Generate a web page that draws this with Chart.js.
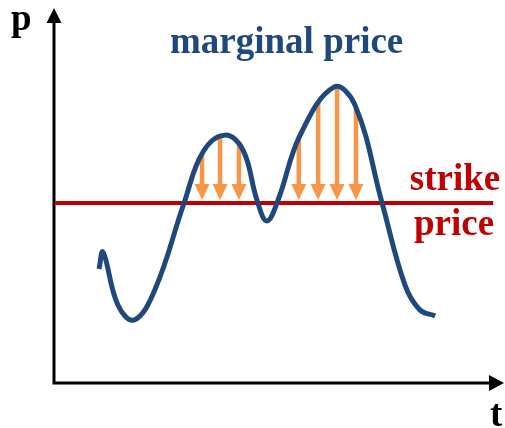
<!DOCTYPE html>
<html>
<head>
<meta charset="utf-8">
<script src="https://cdn.jsdelivr.net/npm/chart.js@4/dist/chart.umd.min.js"></script>
<style>
  html, body { margin: 0; padding: 0; background: #fff; }
  #wrap { width: 505px; height: 428px; }
</style>
</head>
<body>
<div id="wrap"><canvas id="priceChart" width="505" height="428"></canvas></div>
<script>
'use strict'
/*-----data-----*/
var curveT = [1.00, 1.09, 1.42, 1.78, 2.24, 2.89, 3.31, 3.80, 4.20, 4.51, 4.73, 4.98, 5.47, 6.22, 6.69, 7.29, 7.80, 8.13, 8.47];
var curveP = [3.04, 3.49, 2.08, 1.68, 2.48, 4.80, 6.16, 6.61, 6.21, 4.88, 4.32, 4.88, 6.61, 7.89, 7.41, 4.80, 2.61, 1.95, 1.79];
var strikePrice = 4.80;
var strikeT = [0.02, 9.76];
var arrowT = [3.29, 3.69, 4.11, 5.44, 5.87, 6.29, 6.71];
var arrowP = [6.1, 6.55, 6.35, 6.6, 7.5, 7.85, 7.3];

var BLUE = '#1f497d';
var RED = '#c00000';
var ORANGE = '#f79646';
var FONT = "'Liberation Serif', 'DejaVu Serif', serif";

var curveData = curveT.map(function(t, i) { return { x: t, y: curveP[i] }; });
var strikeData = strikeT.map(function(t) { return { x: t, y: strikePrice }; });

/*-----axes and arrows-----*/
var sketchPlugin = {
	id: 'sketch',
	beforeDatasetsDraw: function(chart) {
		var c = chart.ctx, xs = chart.scales.x, ys = chart.scales.y;
		var x0 = xs.getPixelForValue(0), y0 = ys.getPixelForValue(0);
		var xEnd = xs.getPixelForValue(10), yEnd = ys.getPixelForValue(10);
		c.save();
		c.strokeStyle = '#000';
		c.fillStyle = '#000';
		c.lineWidth = 3;
		c.beginPath();
		c.moveTo(x0, y0 + 1.5);
		c.lineTo(x0, yEnd + 14);
		c.moveTo(x0 - 1.5, y0);
		c.lineTo(xEnd - 14, y0);
		c.stroke();
		c.beginPath();
		c.moveTo(x0, yEnd);
		c.lineTo(x0 - 7.5, yEnd + 15);
		c.lineTo(x0 + 7.5, yEnd + 15);
		c.closePath();
		c.fill();
		c.beginPath();
		c.moveTo(xEnd, y0);
		c.lineTo(xEnd - 15, y0 - 8);
		c.lineTo(xEnd - 15, y0 + 8);
		c.closePath();
		c.fill();

		// orange arrows down to the strike line
		var tipY = ys.getPixelForValue(strikePrice) - 3;
		c.fillStyle = ORANGE;
		c.strokeStyle = ORANGE;
		c.lineWidth = 4.5;
		arrowT.forEach(function(t, i) {
			var ax = xs.getPixelForValue(t);
			var top = ys.getPixelForValue(arrowP[i]);
			c.beginPath();
			c.moveTo(ax, top);
			c.lineTo(ax, tipY - 14);
			c.stroke();
			c.beginPath();
			c.moveTo(ax, tipY);
			c.lineTo(ax - 7.5, tipY - 16);
			c.lineTo(ax + 7.5, tipY - 16);
			c.closePath();
			c.fill();
		});
		c.restore();
	},
	afterDraw: function(chart) {
		var c = chart.ctx;
		c.save();
		c.textBaseline = 'alphabetic';
		c.font = 'bold 37px ' + FONT;
		c.fillStyle = '#000';
		c.textAlign = 'left';
		c.fillText('p', 11, 30);
		c.fillText('t', 490, 426);
		c.fillStyle = BLUE;
		c.fillText('marginal price', 170, 53);
		c.fillStyle = RED;
		c.textAlign = 'center';
		c.fillText('strike', 455, 190);
		c.fillText('price', 454, 235);
		c.restore();
	}
};

var ctx = document.getElementById('priceChart');
var myChart = new Chart(ctx, {
	type: 'line',
	data: {
		datasets: [{
			label: 'marginal price',
			data: curveData,
			borderColor: BLUE,
			borderWidth: 5,
			tension: 0.4,
			pointRadius: 0,
			fill: false,
			order: 0
		}, {
			label: 'strike price',
			data: strikeData,
			borderColor: RED,
			borderWidth: 4,
			pointRadius: 0,
			fill: false,
			order: 1
		}]
	},
	options: {
		responsive: false,
		animation: false,
		layout: { padding: { left: 54, right: 1, top: 8, bottom: 45 } },
		plugins: { legend: { display: false }, tooltip: { enabled: false } },
		scales: {
			x: { type: 'linear', min: 0, max: 10, display: false },
			y: { type: 'linear', min: 0, max: 10, display: false }
		}
	},
	plugins: [sketchPlugin]
});
</script>
</body>
</html>
